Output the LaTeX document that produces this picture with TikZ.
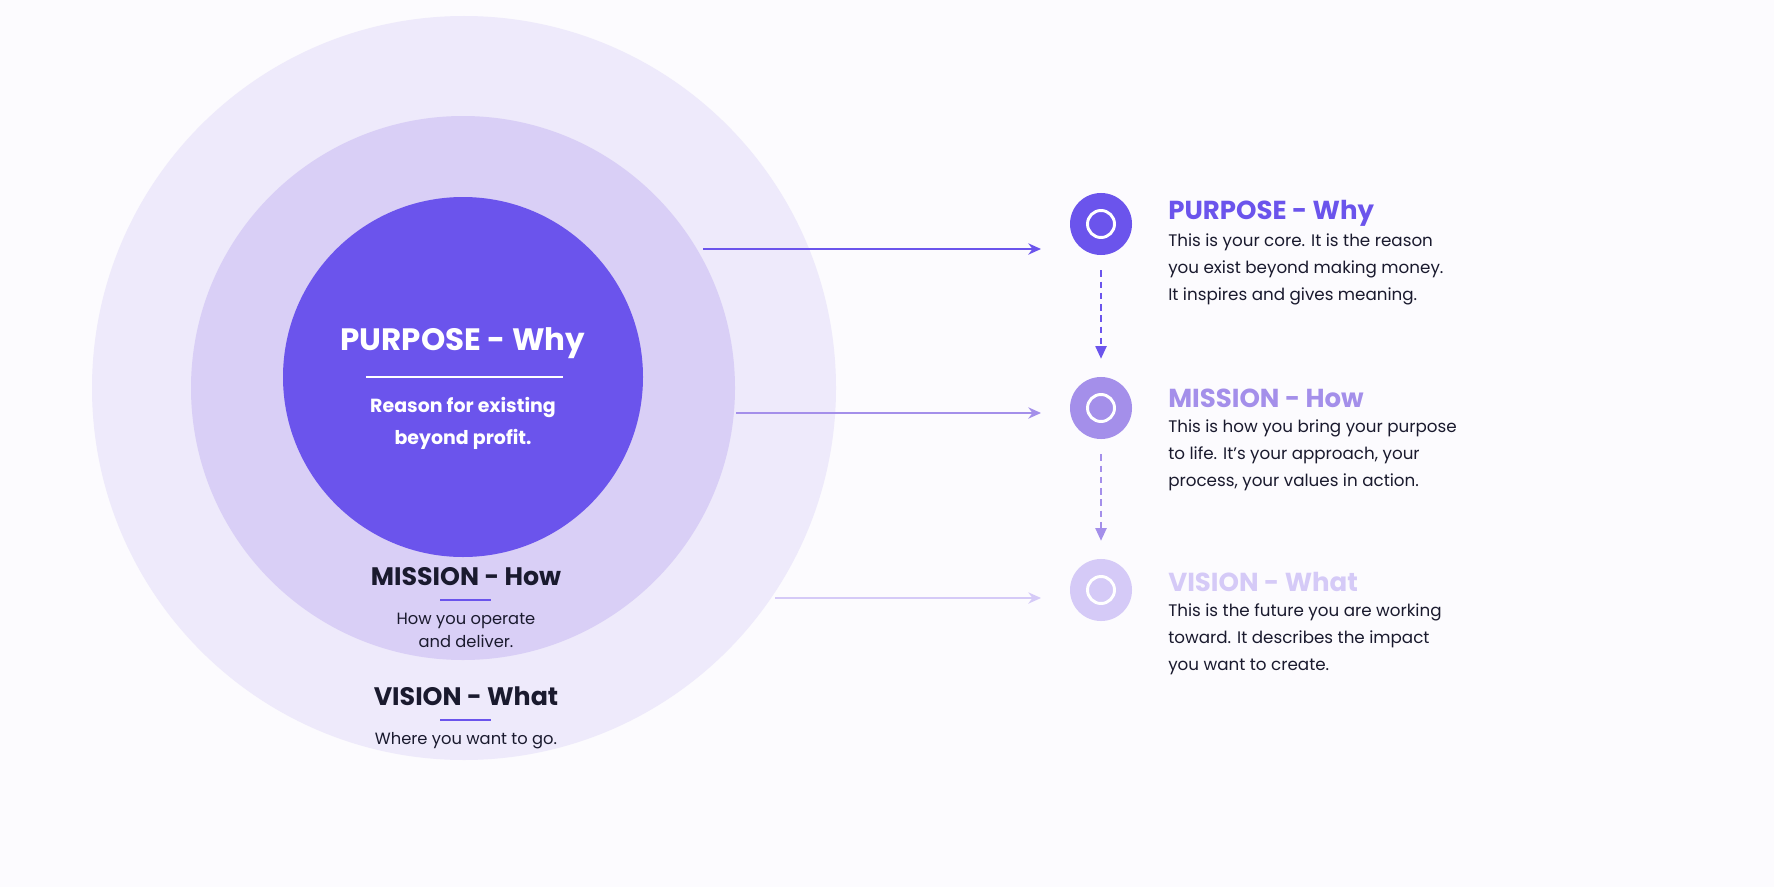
\documentclass[tikz,border=0pt]{standalone}
\usepackage{fontspec}
\setmainfont{Poppins}
\usetikzlibrary{arrows.meta}
\definecolor{bg}{HTML}{FCFBFE}
\definecolor{pA}{HTML}{6B54EC}
\definecolor{pB}{HTML}{A48FEA}
\definecolor{pC}{HTML}{D5CAF7}
\definecolor{cMid}{HTML}{D9CFF6}
\definecolor{cOut}{HTML}{EEEAFB}
\definecolor{ink}{HTML}{1A1A2E}
\newcommand{\fs}[2]{\fontsize{#1*0.711pt}{#2*0.711pt}\selectfont}
\begin{document}
\begin{tikzpicture}[x=0.025cm,y=-0.025cm,
  ttl/.style={font=\fontsize{18.5}{21}\selectfont\bfseries,anchor=west,inner sep=0},
  body/.style={font=\fontsize{11.9}{19.2}\selectfont,anchor=north west,align=left,inner sep=0,text=ink},
  icon/.style={circle,minimum size=1.55cm,inner sep=0},
  arr/.style={line width=1.4pt,-{Stealth[length=9pt,width=8pt]}},
  darr/.style={line width=1.1pt,dash pattern=on 4.5pt off 3.5pt,-{Triangle[length=9pt,width=8pt]}}]
\useasboundingbox[fill=bg] (0,0) rectangle (1774,887);
\fill[cOut] (464,388) circle (372);
\fill[cMid] (463,388) circle (272);
\fill[pA] (463,377) circle (180);
% centre texts
\node[text=white,font=\fontsize{22}{26}\selectfont\bfseries] (pt) at (463,343) {PURPOSE - Why};
\draw[white,line width=1.1pt] (366,377) -- (563,377);
\node[text=white,font=\fontsize{13.5}{22.8}\selectfont\bfseries,align=center] (ps) at (463,423) {Reason for existing\\beyond profit.};
\node[text=ink,font=\fontsize{18}{21}\selectfont\bfseries] (mt) at (466,577) {MISSION - How};
\draw[pA,line width=1.1pt] (440,600) -- (491,600);
\node[text=ink,font=\fontsize{11.6}{16.4}\selectfont,align=center] (ms) at (466,630) {How you operate\\and deliver.};
\node[text=ink,font=\fontsize{18}{21}\selectfont\bfseries] (vt) at (466,696) {VISION - What};
\draw[pA,line width=1.1pt] (440,720) -- (491,720);
\node[text=ink,font=\fontsize{11.6}{16.4}\selectfont] (vs) at (466,741) {Where you want to go.};
% icons
\node[icon,fill=pA] (i1) at (1101,224) {};
\node[icon,fill=pB] (i2) at (1101,408) {};
\node[icon,fill=pC] (i3) at (1101,590) {};
\foreach \n in {i1,i2,i3} \draw[white,line width=2.1pt] (\n) circle (13.5);
% arrows
\coordinate (a1) at (703,249); \coordinate (b1) at (1041,249);
\coordinate (a2) at (736,413); \coordinate (b2) at (1041,413);
\coordinate (a3) at (775,598); \coordinate (b3) at (1041,598);
\draw[arr,pA] (a1) -- (b1);
\draw[arr,pB] (a2) -- (b2);
\draw[arr,pC] (a3) -- (b3);
\draw[darr,pA] ([yshift=-0.38cm]i1.south) -- ([yshift=0.45cm]i2.north);
\draw[darr,pB] ([yshift=-0.38cm]i2.south) -- ([yshift=0.45cm]i3.north);
% right texts
\node[ttl,text=pA] (t1) at (1168,213) {PURPOSE - Why};
\node[body] (d1) at (1168,233) {This is your core. It is the reason\\you exist beyond making money.\\It inspires and gives meaning.};
\node[ttl,text=pB] (t2) at (1168,398) {MISSION - How};
\node[body] (d2) at (1168,419) {This is how you bring your purpose\\to life. It’s your approach, your\\process, your values in action.};
\node[ttl,text=pC] (t3) at (1168,582) {VISION - What};
\node[body] (d3) at (1168,603) {This is the future you are working\\toward. It describes the impact\\you want to create.};
\end{tikzpicture}
\end{document}
